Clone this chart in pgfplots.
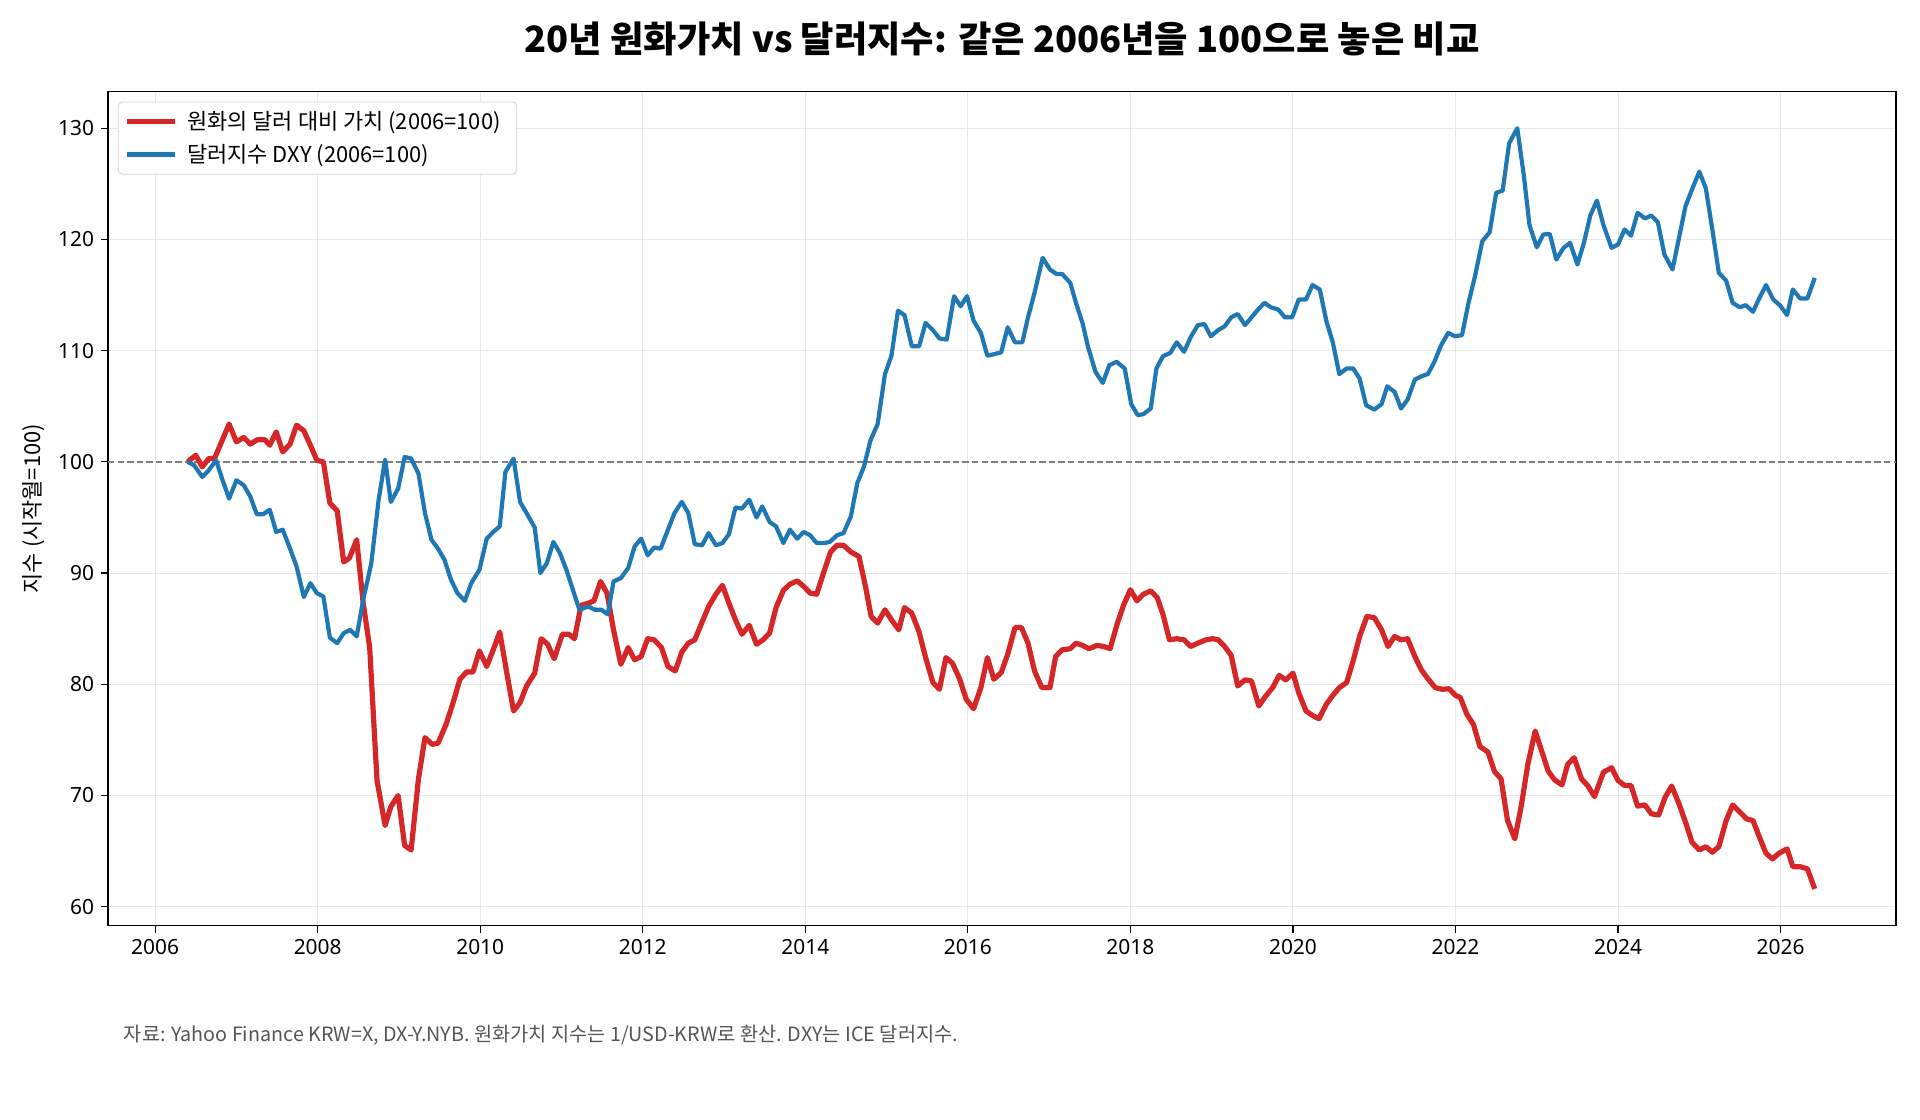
\documentclass[border=0pt]{standalone}
\usepackage{fontspec}
\setmainfont{Noto Sans CJK KR}
\newfontfamily\latinfont{Noto Sans}
\usepackage{pgfplots}
\pgfplotsset{compat=1.18}
\definecolor{cred}{HTML}{D62728}
\definecolor{cblue}{HTML}{1F77B4}
\definecolor{foot}{HTML}{555555}
\definecolor{gridc}{HTML}{E8E8E8}

\pgfplotstableread{
x y
2006.40 100.0
2006.50 100.6
2006.58 99.55
2006.66 100.3
2006.73 100.3
2006.91 103.4
2007.00 101.8
2007.09 102.2
2007.17 101.6
2007.26 102.0
2007.35 102.0
2007.41 101.5
2007.49 102.7
2007.57 100.9
2007.66 101.6
2007.74 103.3
2007.83 102.8
2007.91 101.5
2007.99 100.15
2008.07 100.0
2008.15 96.3
2008.24 95.6
2008.32 91.0
2008.39 91.35
2008.48 93.0
2008.56 87.3
2008.64 83.3
2008.73 71.35
2008.83 67.3
2008.90 69.0
2008.99 70.0
2009.07 65.5
2009.15 65.1
2009.24 71.5
2009.32 75.2
2009.41 74.6
2009.48 74.7
2009.58 76.4
2009.66 78.2
2009.75 80.45
2009.83 81.1
2009.91 81.1
2009.99 83.0
2010.08 81.6
2010.16 83.1
2010.24 84.7
2010.33 80.9
2010.41 77.6
2010.49 78.35
2010.57 79.85
2010.67 81.0
2010.75 84.1
2010.83 83.6
2010.91 82.3
2011.01 84.5
2011.09 84.5
2011.16 84.1
2011.24 87.1
2011.33 87.3
2011.40 87.5
2011.48 89.25
2011.56 88.2
2011.64 84.9
2011.73 81.8
2011.82 83.3
2011.90 82.2
2011.98 82.5
2012.06 84.1
2012.14 84.0
2012.23 83.3
2012.31 81.6
2012.40 81.2
2012.48 82.9
2012.56 83.7
2012.64 84.0
2012.73 85.6
2012.81 87.0
2012.90 88.1
2012.98 88.9
2013.06 87.3
2013.14 85.8
2013.22 84.5
2013.31 85.3
2013.40 83.6
2013.48 84.0
2013.56 84.6
2013.64 86.9
2013.73 88.45
2013.81 89.0
2013.90 89.3
2013.98 88.8
2014.06 88.2
2014.14 88.1
2014.23 90.15
2014.31 91.9
2014.39 92.5
2014.47 92.5
2014.56 91.9
2014.66 91.5
2014.74 88.8
2014.81 86.1
2014.89 85.5
2014.98 86.7
2015.06 85.8
2015.15 84.9
2015.22 86.9
2015.31 86.4
2015.40 84.7
2015.48 82.4
2015.57 80.15
2015.65 79.55
2015.73 82.4
2015.81 81.9
2015.90 80.45
2015.98 78.65
2016.07 77.8
2016.16 79.7
2016.24 82.4
2016.32 80.45
2016.41 81.05
2016.49 82.7
2016.58 85.1
2016.66 85.1
2016.74 83.7
2016.82 81.2
2016.91 79.7
2017.01 79.7
2017.08 82.5
2017.16 83.1
2017.26 83.2
2017.33 83.7
2017.41 83.5
2017.49 83.2
2017.59 83.5
2017.67 83.4
2017.75 83.2
2017.84 85.5
2017.92 87.2
2018.00 88.5
2018.08 87.5
2018.16 88.1
2018.25 88.4
2018.33 87.8
2018.40 86.3
2018.48 84.0
2018.57 84.1
2018.66 84.0
2018.74 83.4
2018.83 83.7
2018.93 84.0
2019.01 84.1
2019.08 84.0
2019.16 83.4
2019.24 82.6
2019.32 79.85
2019.41 80.4
2019.49 80.3
2019.58 78.05
2019.66 78.9
2019.75 79.7
2019.83 80.8
2019.91 80.4
2020.00 81.0
2020.07 79.25
2020.16 77.6
2020.24 77.2
2020.32 76.9
2020.41 78.2
2020.49 79.0
2020.57 79.7
2020.66 80.15
2020.74 82.1
2020.82 84.3
2020.91 86.1
2021.00 86.0
2021.09 84.9
2021.17 83.4
2021.25 84.3
2021.33 84.0
2021.41 84.1
2021.50 82.5
2021.58 81.3
2021.66 80.5
2021.75 79.7
2021.84 79.55
2021.92 79.6
2022.00 79.0
2022.06 78.8
2022.14 77.3
2022.22 76.4
2022.30 74.4
2022.40 73.9
2022.48 72.15
2022.56 71.5
2022.64 67.75
2022.73 66.1
2022.81 69.1
2022.89 72.8
2022.98 75.8
2023.06 74.0
2023.14 72.2
2023.22 71.4
2023.31 70.95
2023.38 72.8
2023.46 73.4
2023.55 71.5
2023.63 70.85
2023.71 69.9
2023.82 72.1
2023.92 72.5
2024.00 71.35
2024.08 70.9
2024.16 70.9
2024.24 69.05
2024.33 69.15
2024.41 68.35
2024.50 68.25
2024.58 69.85
2024.66 70.85
2024.75 69.25
2024.83 67.6
2024.91 65.8
2025.00 65.1
2025.08 65.4
2025.16 64.9
2025.24 65.4
2025.33 67.75
2025.41 69.15
2025.50 68.5
2025.58 67.9
2025.66 67.75
2025.74 66.25
2025.82 64.8
2025.90 64.3
2025.98 64.8
2026.08 65.2
2026.15 63.6
2026.24 63.6
2026.33 63.4
2026.42 61.6
}\krw

\pgfplotstableread{
x y
2006.40 100.0
2006.48 99.7
2006.58 98.65
2006.66 99.25
2006.75 100.15
2006.83 98.35
2006.91 96.7
2007.00 98.35
2007.09 97.9
2007.17 96.9
2007.25 95.3
2007.33 95.3
2007.41 95.7
2007.49 93.7
2007.57 93.9
2007.66 92.2
2007.74 90.6
2007.83 87.85
2007.91 89.1
2007.99 88.2
2008.07 87.9
2008.15 84.2
2008.24 83.7
2008.32 84.6
2008.40 84.9
2008.48 84.3
2008.56 87.6
2008.66 90.9
2008.75 96.6
2008.83 100.2
2008.90 96.4
2008.99 97.6
2009.07 100.45
2009.15 100.3
2009.24 98.95
2009.32 95.4
2009.40 93.0
2009.48 92.2
2009.56 91.2
2009.64 89.4
2009.72 88.2
2009.81 87.5
2009.89 89.1
2009.99 90.3
2010.08 93.1
2010.16 93.7
2010.24 94.2
2010.31 99.1
2010.41 100.3
2010.49 96.4
2010.57 95.4
2010.67 94.1
2010.74 90.0
2010.82 90.9
2010.90 92.8
2010.98 91.8
2011.06 90.3
2011.14 88.5
2011.22 86.7
2011.33 87.0
2011.41 86.7
2011.49 86.7
2011.57 86.3
2011.64 89.25
2011.73 89.55
2011.82 90.45
2011.90 92.4
2011.98 93.1
2012.06 91.6
2012.14 92.3
2012.22 92.2
2012.31 93.9
2012.39 95.4
2012.48 96.4
2012.56 95.4
2012.64 92.6
2012.73 92.5
2012.81 93.6
2012.90 92.5
2012.98 92.7
2013.06 93.5
2013.14 95.9
2013.22 95.8
2013.31 96.6
2013.40 95.0
2013.47 96.0
2013.56 94.6
2013.64 94.2
2013.73 92.7
2013.81 93.9
2013.90 93.1
2013.98 93.7
2014.06 93.4
2014.14 92.7
2014.23 92.7
2014.30 92.8
2014.39 93.4
2014.47 93.6
2014.56 95.1
2014.64 98.1
2014.72 99.55
2014.80 101.9
2014.89 103.4
2014.98 107.9
2015.06 109.55
2015.14 113.6
2015.22 113.2
2015.31 110.4
2015.40 110.4
2015.48 112.5
2015.57 111.85
2015.65 111.1
2015.74 111.0
2015.83 114.9
2015.91 114.0
2015.99 114.9
2016.07 112.7
2016.16 111.6
2016.24 109.55
2016.33 109.7
2016.41 109.85
2016.49 112.1
2016.58 110.75
2016.67 110.75
2016.74 113.0
2016.82 115.2
2016.92 118.35
2017.01 117.3
2017.09 116.9
2017.16 116.9
2017.26 116.1
2017.33 114.3
2017.41 112.5
2017.48 110.3
2017.57 108.1
2017.66 107.1
2017.74 108.7
2017.83 109.0
2017.93 108.4
2018.01 105.2
2018.09 104.2
2018.16 104.3
2018.25 104.8
2018.32 108.4
2018.40 109.5
2018.49 109.8
2018.57 110.75
2018.66 109.9
2018.74 111.2
2018.83 112.3
2018.91 112.4
2018.99 111.3
2019.08 111.85
2019.16 112.2
2019.24 113.0
2019.32 113.3
2019.41 112.3
2019.49 113.0
2019.57 113.7
2019.65 114.3
2019.73 113.9
2019.82 113.7
2019.90 113.0
2019.99 113.0
2020.07 114.6
2020.16 114.6
2020.24 115.9
2020.33 115.5
2020.41 112.7
2020.49 110.75
2020.57 107.9
2020.66 108.4
2020.74 108.4
2020.82 107.5
2020.90 105.1
2021.00 104.7
2021.09 105.2
2021.16 106.8
2021.25 106.3
2021.33 104.8
2021.41 105.6
2021.50 107.4
2021.58 107.7
2021.66 107.9
2021.74 109.0
2021.82 110.45
2021.91 111.6
2021.99 111.3
2022.08 111.4
2022.16 114.3
2022.24 116.7
2022.33 119.85
2022.42 120.65
2022.50 124.2
2022.58 124.4
2022.66 128.65
2022.76 130.0
2022.84 125.8
2022.91 121.3
2023.00 119.3
2023.08 120.45
2023.16 120.5
2023.24 118.2
2023.33 119.25
2023.41 119.7
2023.50 117.75
2023.58 119.7
2023.66 122.2
2023.74 123.5
2023.82 121.3
2023.92 119.25
2024.00 119.55
2024.08 120.9
2024.16 120.35
2024.24 122.4
2024.33 121.9
2024.41 122.15
2024.49 121.55
2024.57 118.65
2024.67 117.3
2024.75 120.15
2024.83 123.0
2024.91 124.5
2025.00 126.1
2025.08 124.6
2025.16 120.9
2025.24 117.0
2025.33 116.3
2025.41 114.3
2025.50 113.9
2025.57 114.1
2025.66 113.5
2025.73 114.6
2025.82 115.9
2025.91 114.6
2025.99 114.1
2026.08 113.2
2026.15 115.5
2026.24 114.7
2026.33 114.7
2026.42 116.55
}\dxy

\begin{document}
\begin{tikzpicture}
\begin{axis}[
  name=ax,
  scale only axis,
  width=894bp, height=417bp,
  xmin=2005.42, xmax=2027.42,
  ymin=58.3, ymax=133.3,
  xtick={2006,2008,...,2026},
  ytick={60,70,...,130},
  /pgf/number format/assume math mode=true,
  xticklabel style={/pgf/number format/1000 sep={}},
  tick label style={font=\latinfont\fontsize{10.5}{12}\selectfont, text=black},
  tick align=outside,
  tick pos=left,
  major tick length=3.5bp,
  every tick/.style={black, line width=0.6bp},
  grid=major,
  grid style={gridc, line width=0.5bp},
  axis line style={line width=0.7bp},
  legend style={at={(0.0055,0.988)}, anchor=north west,
    draw=gray!35, rounded corners=2bp, fill=white,
    font=\fontsize{11}{13}\selectfont, row sep=2bp,
    inner xsep=3bp, inner ysep=2.5bp,
    nodes={inner xsep=5bp}},
  legend cell align=left,
  legend image code/.code={\draw[#1, line width=2.6bp] (0bp,0bp) -- (24bp,0bp);},
]
\addplot[forget plot, gray, line width=0.75bp, dash pattern=on 3.2bp off 1.6bp] coordinates {(2005.42,100) (2027.42,100)};
\addplot[cred, line width=2.6bp, line join=round] table[x=x,y=y] {\krw};
\addlegendentry{원화의 달러 대비 가치 (2006=100)}
\addplot[cblue, line width=2.1bp, line join=round] table[x=x,y=y] {\dxy};
\addlegendentry{달러지수 DXY (2006=100)}
\end{axis}
\node[font=\bfseries\fontsize{18.2}{21}\selectfont, yshift=26.5bp] at (ax.north) {20년 원화가치 vs 달러지수: 같은 2006년을 100으로 놓은 비교};
\node[rotate=90, font=\fontsize{11}{13}\selectfont] at ([xshift=-37bp]ax.west) {지수 (시작월=100)};
\node[anchor=west, inner sep=0pt, text=foot, font=\fontsize{9.9}{12}\selectfont] at ([xshift=7.8bp, yshift=-55bp]ax.south west) {자료: Yahoo Finance KRW=X, DX-Y.NYB. 원화가치 지수는 1/USD-KRW로 환산. DXY는 ICE 달러지수.};
\pgfresetboundingbox
\path[use as bounding box] ([xshift=-54bp, yshift=-97.2bp]ax.south west) rectangle ++(960bp,560bp);
\end{tikzpicture}
\end{document}
